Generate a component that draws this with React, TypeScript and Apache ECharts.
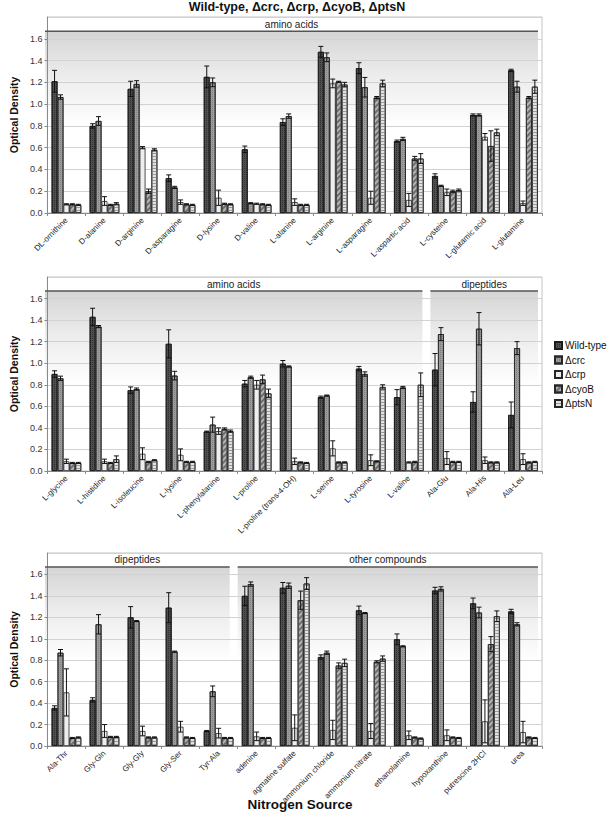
import React, { useEffect, useRef } from 'react';
import * as echarts from 'echarts';

const strains = ['Wild-type', 'Δcrc', 'Δcrp', 'ΔcyoB', 'ΔptsN'];

// Panel 1
const cats1 = ['DL-ornithine', 'D-alanine', 'D-arginine', 'D-asparagine', 'D-lysine', 'D-valine', 'L-alanine', 'L-arginine', 'L-asparagine', 'L-aspartic acid', 'L-cysteine', 'L-glutamic acid', 'L-glutamine'];
const wt1 = [1.21, 0.80, 1.14, 0.32, 1.25, 0.585, 0.835, 1.48, 1.33, 0.66, 0.34, 0.90, 1.31];
const wt1Err = [0.10, 0.02, 0.07, 0.03, 0.10, 0.03, 0.03, 0.05, 0.05, 0.01, 0.02, 0.01, 0.01];
const crc1 = [1.065, 0.845, 1.185, 0.235, 1.20, 0.09, 0.89, 1.43, 1.155, 0.68, 0.25, 0.90, 1.16];
const crc1Err = [0.02, 0.04, 0.03, 0.01, 0.04, 0.005, 0.02, 0.04, 0.09, 0.015, 0.005, 0.01, 0.05];
const crp1 = [0.08, 0.11, 0.60, 0.10, 0.14, 0.085, 0.10, 1.19, 0.14, 0.12, 0.19, 0.70, 0.09];
const crp1Err = [0.005, 0.04, 0.01, 0.02, 0.07, 0.005, 0.03, 0.04, 0.06, 0.06, 0.03, 0.03, 0.02];
const cyo1 = [0.08, 0.075, 0.20, 0.08, 0.085, 0.08, 0.075, 1.205, 1.06, 0.50, 0.20, 0.615, 1.06];
const cyo1Err = [0.005, 0.005, 0.02, 0.005, 0.005, 0.005, 0.005, 0.005, 0.01, 0.02, 0.01, 0.14, 0.01];
const pts1 = [0.075, 0.085, 0.58, 0.075, 0.08, 0.075, 0.075, 1.18, 1.19, 0.50, 0.21, 0.74, 1.16];
const pts1Err = [0.005, 0.01, 0.01, 0.005, 0.005, 0.005, 0.005, 0.02, 0.03, 0.045, 0.01, 0.03, 0.06];

// Panel 2
const cats2 = ['L-glycine', 'L-histidine', 'L-isoleucine', 'L-lysine', 'L-phenylalanine', 'L-proline', 'L-proline (trans-4-OH)', 'L-serine', 'L-tyrosine', 'L-valine', 'Ala-Glu', 'Ala-His', 'Ala-Leu'];
const wt2 = [0.90, 1.43, 0.75, 1.18, 0.365, 0.81, 0.995, 0.685, 0.95, 0.685, 0.94, 0.64, 0.52];
const wt2Err = [0.03, 0.08, 0.03, 0.13, 0.005, 0.03, 0.03, 0.01, 0.02, 0.07, 0.15, 0.095, 0.12];
const crc2 = [0.86, 1.34, 0.76, 0.885, 0.43, 0.87, 0.97, 0.70, 0.90, 0.775, 1.27, 1.32, 1.14];
const crc2Err = [0.02, 0.01, 0.01, 0.04, 0.07, 0.01, 0.005, 0.005, 0.02, 0.01, 0.06, 0.15, 0.06];
const crp2 = [0.09, 0.09, 0.16, 0.15, 0.37, 0.80, 0.09, 0.21, 0.10, 0.08, 0.12, 0.10, 0.11];
const crp2Err = [0.02, 0.02, 0.055, 0.055, 0.03, 0.04, 0.03, 0.07, 0.05, 0.005, 0.06, 0.03, 0.05];
const cyo2 = [0.075, 0.075, 0.085, 0.085, 0.39, 0.85, 0.08, 0.08, 0.09, 0.085, 0.085, 0.08, 0.08];
const cyo2Err = [0.005, 0.005, 0.005, 0.005, 0.01, 0.04, 0.005, 0.005, 0.005, 0.005, 0.005, 0.005, 0.005];
const pts2 = [0.075, 0.11, 0.10, 0.085, 0.37, 0.72, 0.075, 0.08, 0.78, 0.80, 0.085, 0.08, 0.085];
const pts2Err = [0.005, 0.03, 0.005, 0.005, 0.01, 0.04, 0.005, 0.005, 0.02, 0.11, 0.005, 0.005, 0.005];

// Panel 3
const cats3 = ['Ala-Thr', 'Gly-Gln', 'Gly-Gly', 'Gly-Ser', 'Tyr-Ala', 'adenine', 'agmatine sulfate', 'ammonium chloride', 'ammonium nitrate', 'ethanolamine', 'hypoxanthine', 'putrescine 2HCl', 'urea'];
const wt3 = [0.355, 0.43, 1.20, 1.29, 0.14, 1.40, 1.475, 0.83, 1.265, 0.995, 1.45, 1.33, 1.255];
const wt3Err = [0.02, 0.02, 0.10, 0.14, 0.005, 0.09, 0.05, 0.02, 0.04, 0.05, 0.03, 0.05, 0.02];
const crc3 = [0.87, 1.135, 1.165, 0.88, 0.51, 1.51, 1.495, 0.87, 1.24, 0.93, 1.465, 1.245, 1.135];
const crc3Err = [0.03, 0.09, 0.005, 0.005, 0.05, 0.02, 0.025, 0.015, 0.005, 0.005, 0.02, 0.05, 0.015];
const crp3 = [0.50, 0.14, 0.14, 0.18, 0.12, 0.09, 0.17, 0.15, 0.14, 0.10, 0.10, 0.23, 0.13];
const crp3Err = [0.22, 0.06, 0.045, 0.05, 0.045, 0.04, 0.12, 0.09, 0.07, 0.04, 0.05, 0.20, 0.10];
const cyo3 = [0.075, 0.085, 0.08, 0.08, 0.075, 0.075, 1.36, 0.75, 0.785, 0.08, 0.08, 0.95, 0.08];
const cyo3Err = [0.005, 0.005, 0.005, 0.005, 0.005, 0.005, 0.085, 0.025, 0.01, 0.005, 0.005, 0.07, 0.005];
const pts3 = [0.08, 0.085, 0.08, 0.075, 0.075, 0.075, 1.515, 0.775, 0.815, 0.07, 0.075, 1.21, 0.075];
const pts3Err = [0.005, 0.005, 0.005, 0.005, 0.005, 0.005, 0.055, 0.035, 0.025, 0.005, 0.005, 0.05, 0.005];

const groups1 = [{ label: 'amino acids', from: 0, to: 13 }];
const groups2 = [{ label: 'amino acids', from: 0, to: 10 }, { label: 'dipeptides', from: 10, to: 13 }];
const groups3 = [{ label: 'dipeptides', from: 0, to: 5 }, { label: 'other compounds', from: 5, to: 13 }];

const panels = [
  { cats: cats1, vals: [wt1, crc1, crp1, cyo1, pts1], errs: [wt1Err, crc1Err, crp1Err, cyo1Err, pts1Err], groups: groups1 },
  { cats: cats2, vals: [wt2, crc2, crp2, cyo2, pts2], errs: [wt2Err, crc2Err, crp2Err, cyo2Err, pts2Err], groups: groups2 },
  { cats: cats3, vals: [wt3, crc3, crp3, cyo3, pts3], errs: [wt3Err, crc3Err, crp3Err, cyo3Err, pts3Err], groups: groups3 },
];

const FONT = 'Liberation Sans, Arial, sans-serif';
const GRID_LEFT = 41;
const GRID_WIDTH = 501;
const GRIDS = [
  { top: 17, height: 196 },
  { top: 277, height: 194 },
  { top: 553, height: 193 },
];
const YMAX = 1.8;
const CAT_GAP = 0.22;

const strainStyles: any[] = [
  { color: '#505050', borderColor: '#1a1a1a', borderWidth: 0.8, decal: { symbol: 'rect', symbolSize: 1, dashArrayX: [1, 1], dashArrayY: [1, 1], rotation: 0, color: 'rgba(20,20,20,0.55)' } },
  { color: '#9c9c9c', borderColor: '#262626', borderWidth: 0.8, decal: { symbol: 'rect', symbolSize: 1, dashArrayX: [1, 1], dashArrayY: [1, 1], rotation: 0, color: 'rgba(90,90,90,0.45)' } },
  { color: '#eeeeee', borderColor: '#262626', borderWidth: 0.8, decal: 'none' },
  { color: '#b4b4b4', borderColor: '#262626', borderWidth: 0.8, decal: { symbol: 'rect', symbolSize: 1, dashArrayX: [1, 0], dashArrayY: [1.2, 1.6], rotation: -Math.PI / 4, color: '#6e6e6e' } },
  { color: '#e2e2e2', borderColor: '#262626', borderWidth: 0.8, decal: { symbol: 'rect', symbolSize: 1, dashArrayX: [1, 0], dashArrayY: [1, 1.5], rotation: 0, color: '#9a9a9a' } },
];

function yPix(g: number, v: number) {
  return GRIDS[g].top + ((YMAX - v) / YMAX) * GRIDS[g].height;
}

export default function App() {
  const ref = useRef<HTMLDivElement>(null);
  useEffect(() => {
    const chart = echarts.init(ref.current!, null, { renderer: 'svg' });
    const series: any[] = [];
    const grid: any[] = [];
    const xAxis: any[] = [];
    const yAxis: any[] = [];
    const graphic: any[] = [];

    panels.forEach((p, g) => {
      grid.push({
        left: GRID_LEFT, width: GRID_WIDTH, top: GRIDS[g].top, height: GRIDS[g].height,
        show: true, borderColor: '#c4c4c4', borderWidth: 1, backgroundColor: 'transparent',
      });
      xAxis.push({
        type: 'category', gridIndex: g, data: p.cats,
        axisLine: { lineStyle: { color: '#8a8a8a' } },
        axisTick: { show: true, length: 3, lineStyle: { color: '#8a8a8a' } },
        axisLabel: { rotate: 45, interval: 0, fontSize: 8, color: '#222', fontFamily: FONT, margin: 6 },
      });
      yAxis.push({
        type: 'value', gridIndex: g, min: 0, max: YMAX, interval: 0.2,
        name: 'Optical Density', nameLocation: 'middle', nameGap: 26,
        nameTextStyle: { fontSize: 10.5, fontWeight: 'bold', color: '#111', fontFamily: FONT },
        axisLine: { show: true, lineStyle: { color: '#8a8a8a' } },
        axisTick: { show: true, length: 3, lineStyle: { color: '#8a8a8a' } },
        axisLabel: { showMaxLabel: false, fontSize: 9, color: '#333', fontFamily: FONT, margin: 5, formatter: (v: number) => v.toFixed(1) },
        splitLine: { show: true, lineStyle: { color: '#d2d2d2', width: 1 } },
      });
      p.vals.forEach((vals, s) => {
        series.push({
          type: 'bar', name: strains[s], xAxisIndex: g, yAxisIndex: g,
          data: vals, barGap: '0%', barCategoryGap: (CAT_GAP * 100) + '%',
          itemStyle: strainStyles[s], z: 3,
        });
      });
      const errData: any[] = [];
      p.vals.forEach((vals, s) => {
        vals.forEach((v, i) => errData.push([i, v, s, p.errs[s][i]]));
      });
      series.push({
        type: 'custom', name: 'error', xAxisIndex: g, yAxisIndex: g, z: 6, silent: true,
        encode: { x: 0, y: 1 },
        renderItem: (params: any, api: any) => {
          const cat = api.value(0), v = api.value(1), s = api.value(2), e = api.value(3);
          const c = api.coord([cat, v]);
          const bw = api.size([1, 0])[0];
          const barW = (bw * (1 - CAT_GAP)) / 5;
          const x = c[0] + (s - 2) * barW;
          const yt = api.coord([cat, v + e])[1];
          const yb = api.coord([cat, v - e])[1];
          const cw = barW * 0.42;
          const st = { stroke: '#111', lineWidth: 1 };
          return {
            type: 'group',
            children: [
              { type: 'line', shape: { x1: x, y1: yt, x2: x, y2: yb }, style: st },
              { type: 'line', shape: { x1: x - cw, y1: yt, x2: x + cw, y2: yt }, style: st },
              { type: 'line', shape: { x1: x - cw, y1: yb, x2: x + cw, y2: yb }, style: st },
            ],
          };
        },
        data: errData,
      });

      const bw = GRID_WIDTH / p.cats.length;
      p.groups.forEach((gr) => {
        const x0 = GRID_LEFT + gr.from * bw + 4;
        const x1 = GRID_LEFT + gr.to * bw - 4;
        const yh = yPix(g, 1.67);
        const yl = yPix(g, 0.78);
        graphic.push({
          type: 'rect', z: -5, silent: true,
          shape: { x: x0, y: yh, width: x1 - x0, height: yl - yh },
          style: {
            fill: new echarts.graphic.LinearGradient(0, 0, 0, 1, [
              { offset: 0, color: '#d5d5d5' },
              { offset: 0.45, color: '#ececec' },
              { offset: 1, color: '#ffffff' },
            ]),
          },
        });
        graphic.push({
          type: 'line', z: 10, silent: true,
          shape: { x1: x0, y1: yh, x2: x1, y2: yh },
          style: { stroke: '#555', lineWidth: 1.5 },
        });
        graphic.push({
          type: 'text', z: 10, silent: true,
          x: (x0 + x1) / 2, y: yPix(g, 1.735),
          style: { text: gr.label, fontSize: 10, fill: '#222', align: 'center', verticalAlign: 'middle', fontFamily: FONT },
        });
      });
    });

    graphic.push({
      type: 'text', z: 10, x: 297, y: 7,
      style: { text: 'Wild-type, Δcrc, Δcrp, ΔcyoB, ΔptsN', fontSize: 12.5, fontWeight: 'bold', fill: '#111', align: 'center', verticalAlign: 'middle', fontFamily: FONT },
    });
    graphic.push({
      type: 'text', z: 10, x: 300, y: 804,
      style: { text: 'Nitrogen Source', fontSize: 13.5, fontWeight: 'bold', fill: '#111', align: 'center', verticalAlign: 'middle', fontFamily: FONT },
    });

    chart.setOption({
      animation: false,
      backgroundColor: '#ffffff',
      grid, xAxis, yAxis, series, graphic,
      legend: {
        data: strains, orient: 'vertical', left: 554, top: 340, padding: 0,
        itemWidth: 7, itemHeight: 7, itemGap: 3.5, icon: 'rect',
        textStyle: { fontSize: 10, color: '#111', fontFamily: FONT, lineHeight: 11, padding: [0, 0, 0, -2] },
      },
    });
    return () => chart.dispose();
  }, []);
  return <div ref={ref} style={{ position: 'absolute', left: 0, top: 0, width: 608, height: 817 }} />;
}
